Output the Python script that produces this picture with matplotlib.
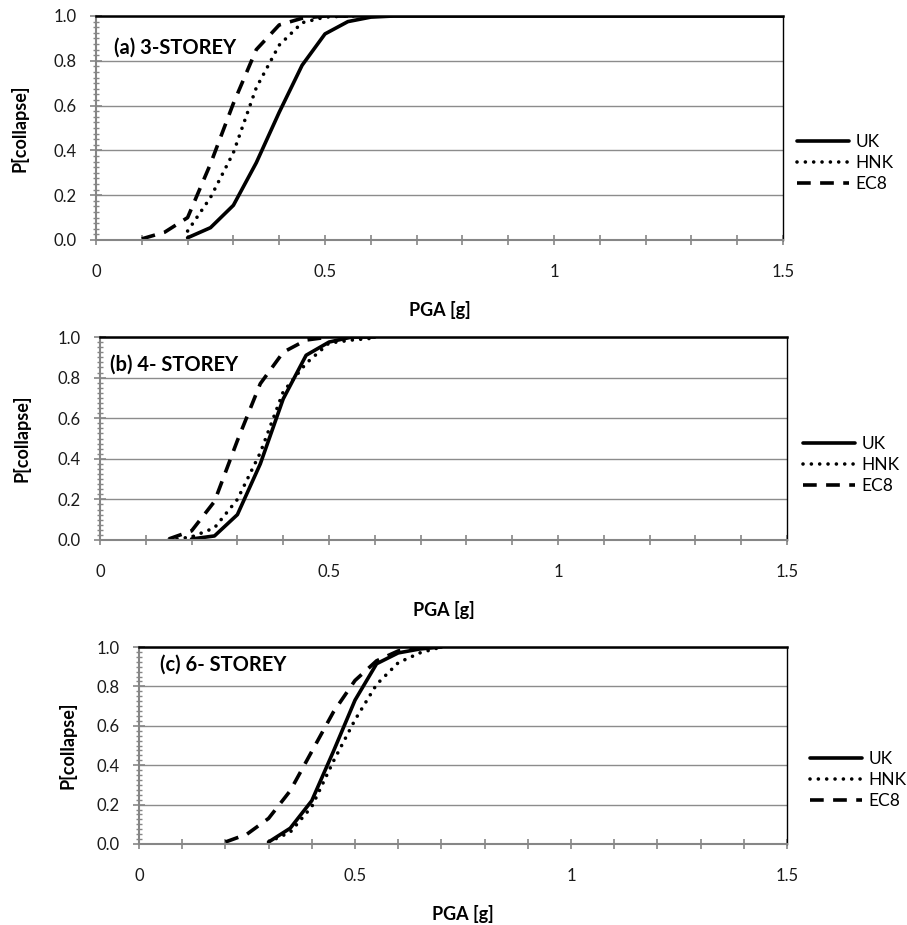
import numpy as np
import matplotlib
matplotlib.use("Agg")
import matplotlib.pyplot as plt
from matplotlib.ticker import MultipleLocator, FixedLocator, FixedFormatter

plt.rcParams['font.family'] = ['Lato', 'DejaVu Sans']

# (a) 3-storey
pga_uk_a  = [0.2, 0.25, 0.3, 0.35, 0.4, 0.45, 0.5, 0.55, 0.6, 0.65, 0.7, 1.5]
p_uk_a    = [0.01, 0.055, 0.155, 0.345, 0.57, 0.78, 0.92, 0.975, 0.995, 1.0, 1.0, 1.0]
pga_hnk_a = [0.2, 0.25, 0.3, 0.35, 0.4, 0.45, 0.5, 0.55, 0.6]
p_hnk_a   = [0.04, 0.19, 0.39, 0.68, 0.87, 0.97, 0.995, 1.0, 1.0]
pga_ec8_a = [0.1, 0.15, 0.2, 0.25, 0.3, 0.35, 0.4, 0.45, 0.5, 0.55]
p_ec8_a   = [0.005, 0.035, 0.10, 0.34, 0.61, 0.85, 0.96, 0.99, 1.0, 1.0]

# (b) 4-storey
pga_uk_b  = [0.2, 0.25, 0.3, 0.35, 0.4, 0.45, 0.5, 0.55, 0.6]
p_uk_b    = [0.005, 0.02, 0.125, 0.375, 0.695, 0.91, 0.975, 1.0, 1.0]
pga_hnk_b = [0.15, 0.2, 0.25, 0.3, 0.35, 0.4, 0.45, 0.5, 0.55, 0.6]
p_hnk_b   = [0.0, 0.015, 0.06, 0.2, 0.43, 0.73, 0.87, 0.97, 0.985, 0.995]
pga_ec8_b = [0.15, 0.2, 0.25, 0.3, 0.35, 0.4, 0.45, 0.5]
p_ec8_b   = [0.005, 0.045, 0.19, 0.49, 0.77, 0.925, 0.985, 1.0]

# (c) 6-storey
pga_uk_c  = [0.3, 0.35, 0.4, 0.45, 0.5, 0.55, 0.6, 0.65, 0.7]
p_uk_c    = [0.01, 0.08, 0.22, 0.47, 0.73, 0.915, 0.97, 0.99, 1.0]
pga_hnk_c = [0.3, 0.35, 0.4, 0.45, 0.5, 0.55, 0.6, 0.65, 0.7]
p_hnk_c   = [0.01, 0.06, 0.19, 0.42, 0.63, 0.81, 0.92, 0.97, 1.0]
pga_ec8_c = [0.2, 0.25, 0.3, 0.35, 0.4, 0.45, 0.5, 0.55, 0.6, 0.65]
p_ec8_c   = [0.01, 0.05, 0.13, 0.27, 0.47, 0.67, 0.83, 0.93, 0.98, 1.0]

titles = ['(a) 3-STOREY', '(b) 4- STOREY', '(c) 6- STOREY']
series = [
    ((pga_uk_a, p_uk_a), (pga_hnk_a, p_hnk_a), (pga_ec8_a, p_ec8_a)),
    ((pga_uk_b, p_uk_b), (pga_hnk_b, p_hnk_b), (pga_ec8_b, p_ec8_b)),
    ((pga_uk_c, p_uk_c), (pga_hnk_c, p_hnk_c), (pga_ec8_c, p_ec8_c)),
]
labels = ['UK', 'HNK', 'EC8']
xticks = [0, 0.5, 1, 1.5]
xticklabels = ['0', '0.5', '1', '1.5']

W, H = 907, 925
# axes boxes in pixels: left, right, top, bottom
boxes = [(96, 783, 16, 240), (100, 787, 337, 540), (139, 787, 647, 844)]
title_pos = [(0.026, 0.857), (0.015, 0.862), (0.032, 0.91)]
leg_x = [797, 803, 810]
leg_y = [163, 465, 780]
ylab_x = [29, 31, 76]   # right edge of the rotated y label

fig = plt.figure(figsize=(W / 100, H / 100), dpi=100)
axis_gray = '#868686'

for i in range(3):
    l, r, t, b = boxes[i]
    ax = fig.add_axes([l / W, 1 - b / H, (r - l) / W, (b - t) / H])
    (xu, yu), (xh, yh), (xe, ye) = series[i]
    ax.plot(xu, yu, color='black', lw=2.6, label=labels[0], solid_capstyle='round')
    ax.plot(xh, yh, color='black', lw=2.6, label=labels[1],
            linestyle=(0, (0.01, 2.3)), dash_capstyle='round')
    ax.plot(xe, ye, color='black', lw=2.6, label=labels[2],
            linestyle=(0, (3.8, 2.6)))

    ax.set_xlim(0, 1.5)
    ax.set_ylim(0, 1.0)
    ax.xaxis.set_major_locator(FixedLocator(xticks))
    ax.xaxis.set_major_formatter(FixedFormatter(xticklabels))
    ax.xaxis.set_minor_locator(MultipleLocator(0.1))
    ax.yaxis.set_major_locator(MultipleLocator(0.2))
    ax.yaxis.set_minor_locator(MultipleLocator(0.025))
    ax.yaxis.set_major_formatter(plt.FuncFormatter(lambda v, p: f'{v:.1f}'))

    ax.grid(axis='y', which='major', color='#8c8c8c', lw=1.0)
    ax.set_axisbelow(True)

    for s in ['left', 'bottom']:
        ax.spines[s].set_color(axis_gray)
        ax.spines[s].set_linewidth(1.5)
    for s in ['top', 'right']:
        ax.spines[s].set_color('black')
    ax.spines['top'].set_linewidth(1.8)
    ax.spines['right'].set_linewidth(1.0)

    ax.tick_params(axis='x', which='both', direction='inout', length=7, width=1.2,
                   color=axis_gray, labelsize=12, pad=14, labelcolor='#1a1a1a')
    ax.tick_params(axis='y', which='major', direction='inout', length=8, width=1.2,
                   color=axis_gray, labelsize=12, pad=10, labelcolor='#1a1a1a')
    ax.tick_params(axis='y', which='minor', direction='inout', length=5, width=1.0,
                   color=axis_gray)

    ax.set_xlabel('PGA [g]', fontsize=13, fontweight='bold', labelpad=15)
    ax.set_ylabel('P[collapse]', fontsize=13, fontweight='bold')
    ax.yaxis.set_label_coords((ylab_x[i] - l) / (r - l), 0.5)

    ax.text(title_pos[i][0], title_pos[i][1], titles[i], transform=ax.transAxes,
            fontsize=14.5, fontweight='bold', va='center', ha='left')

    ax.legend(loc='center left',
              bbox_to_anchor=((leg_x[i] - l) / (r - l), (b - leg_y[i]) / (b - t)),
              frameon=False, fontsize=12.5, handlelength=3.0, handletextpad=0.35,
              labelspacing=0.3, borderpad=0, borderaxespad=0)

fig.savefig('out.png', dpi=100)
